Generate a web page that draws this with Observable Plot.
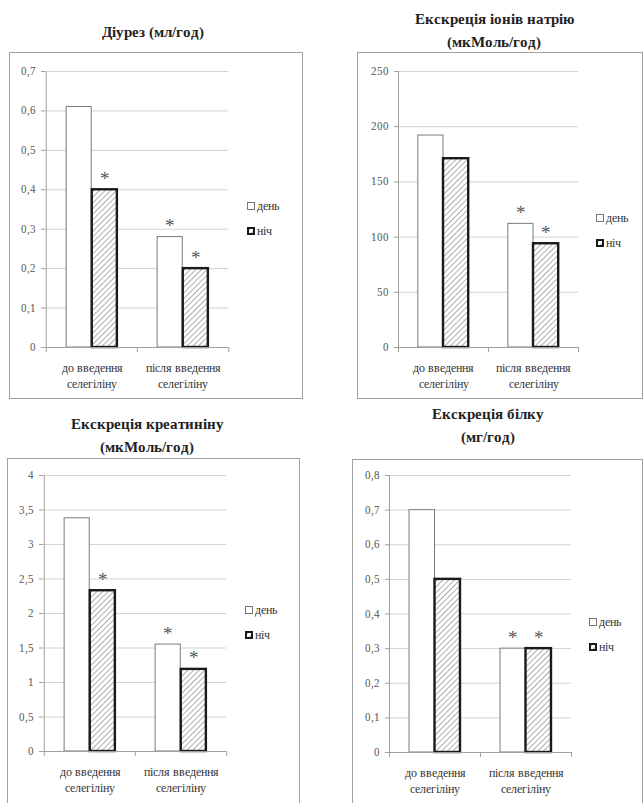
<!DOCTYPE html>
<html>
<head>
<meta charset="utf-8">
<script src="https://cdn.jsdelivr.net/npm/d3@7"></script>
<script src="https://cdn.jsdelivr.net/npm/@observablehq/plot@0.6"></script>
<style>
  @font-face { font-family: "RefSerif"; font-weight: 400; src: local("Liberation Serif"), local("LiberationSerif"), local("LiberationSerif-Regular"), local("Liberation Serif Regular"), local("DejaVu Serif"), local("DejaVuSerif"), local("Times New Roman"); }
  @font-face { font-family: "RefSerif"; font-weight: 700; src: local("Liberation Serif Bold"), local("LiberationSerif-Bold"), local("DejaVu Serif Bold"), local("DejaVuSerif-Bold"), local("Times New Roman Bold"); }
  html, body { margin: 0; padding: 0; background: #fff; }
  body { width: 643px; height: 803px; position: relative; overflow: hidden; font-family: "RefSerif", "Liberation Serif", "DejaVu Serif", serif; }
  .title { position: absolute; width: 320px; text-align: center; font-weight: bold; font-size: 15px; line-height: 23px; color: #222; }
  .frame { position: absolute; border: 1px solid #a0a0a0; }
  .frame svg { display: block; }
  .legend { position: absolute; font-size: 12px; color: #333; }
  .legend .item { position: absolute; left: 0; white-space: nowrap; height: 14px; line-height: 14px; }
  .legend .sw { display: inline-block; vertical-align: middle; margin-right: 2px; box-sizing: border-box; width: 8px; height: 8px; position: relative; top: -1px; }
</style>
</head>
<body>
<svg width="0" height="0" style="position:absolute">
  <defs>
    <pattern id="hatch" width="4" height="4" patternUnits="userSpaceOnUse" patternTransform="rotate(45)">
      <rect width="4" height="4" fill="#ffffff"></rect>
      <line x1="0" y1="0" x2="0" y2="4" stroke="#9a9a9a" stroke-width="1.6"></line>
    </pattern>
  </defs>
</svg>
<script>
// ---- data ----
const categories = ["до введення\nселегіліну", "після введення\nселегіліну"];
const seriesNames = ["день", "ніч"];

const diuresTitle = "Діурез (мл/год)";
const diuresDay = [0.61, 0.28];
const diuresNight = [0.40, 0.20];
const diuresDayStar = [false, true];
const diuresNightStar = [true, true];
const diuresTicks = [0, 0.1, 0.2, 0.3, 0.4, 0.5, 0.6, 0.7];

const sodiumTitle = "Екскреція іонів натрію\n(мкМоль/год)";
const sodiumDay = [192, 112];
const sodiumNight = [171, 94];
const sodiumDayStar = [false, true];
const sodiumNightStar = [false, true];
const sodiumTicks = [0, 50, 100, 150, 200, 250];

const creatTitle = "Екскреція креатиніну\n(мкМоль/год)";
const creatDay = [3.38, 1.55];
const creatNight = [2.33, 1.19];
const creatDayStar = [false, true];
const creatNightStar = [true, true];
const creatTicks = [0, 0.5, 1, 1.5, 2, 2.5, 3, 3.5, 4];

const proteinTitle = "Екскреція білку\n(мг/год)";
const proteinDay = [0.70, 0.30];
const proteinNight = [0.50, 0.30];
const proteinDayStar = [false, true];
const proteinNightStar = [false, true];
const proteinTicks = [0, 0.1, 0.2, 0.3, 0.4, 0.5, 0.6, 0.7, 0.8];

// ---- layout ----
const panels = [
  {title: diuresTitle, day: diuresDay, night: diuresNight, dayStar: diuresDayStar, nightStar: diuresNightStar, ticks: diuresTicks,
   fx: 10, fy: 53, w: 292, h: 345, m: [18, 74, 51, 35], tx: 153, ty: 21, lx: 247, ly: 199},
  {title: sodiumTitle, day: sodiumDay, night: sodiumNight, dayStar: sodiumDayStar, nightStar: sodiumNightStar, ticks: sodiumTicks,
   fx: 358, fy: 53, w: 284, h: 345, m: [18, 64, 51, 40], tx: 494, ty: 8, lx: 596, ly: 211},
  {title: creatTitle, day: creatDay, night: creatNight, dayStar: creatDayStar, nightStar: creatNightStar, ticks: creatTicks,
   fx: 8, fy: 459, w: 291, h: 345, m: [16, 73, 53, 35], tx: 147, ty: 413, lx: 245, ly: 603},
  {title: proteinTitle, day: proteinDay, night: proteinNight, dayStar: proteinDayStar, nightStar: proteinNightStar, ticks: proteinTicks,
   fx: 353, fy: 460, w: 289, h: 345, m: [15, 71, 53, 36], tx: 488, ty: 403, lx: 589, ly: 615}
];

const fmt = d => String(d).replace(".", ",");
const serif = "RefSerif, 'Liberation Serif', 'DejaVu Serif', serif";

function drawPanel(p) {
  const [mt, mr, mb, ml] = p.m;
  const bw = (p.w - ml - mr) / categories.length;
  const pad = bw * 0.22, barW = bw * 0.28;
  const rows = categories.map((c, i) => ({cat: c, day: p.day[i], night: p.night[i], dayStar: p.dayStar[i], nightStar: p.nightStar[i]}));
  const ymax = p.ticks[p.ticks.length - 1];

  const chart = Plot.plot({
    width: p.w, height: p.h,
    marginTop: mt, marginRight: mr, marginBottom: mb, marginLeft: ml,
    style: {fontFamily: serif, background: "white", overflow: "visible"},
    x: {domain: categories, padding: 0, axis: null},
    y: {domain: [0, ymax], axis: null},
    marks: [
      Plot.ruleY(p.ticks, {stroke: "#d2d2d2", strokeWidth: 1}),
      Plot.ruleX([categories[0]], {dx: -bw / 2, stroke: "#a0a0a0"}),
      Plot.barY(rows, {x: "cat", y: "day", fill: "white", stroke: "#7a7a7a", strokeWidth: 1, insetLeft: pad, insetRight: bw - pad - barW}),
      Plot.barY(rows, {x: "cat", y: "night", fill: "url(#hatch)", stroke: "#1a1a1a", strokeWidth: 2.4, insetLeft: bw - pad - barW, insetRight: pad}),
      Plot.ruleY([0], {stroke: "#a0a0a0"}),
      Plot.ruleX(categories, {x: d => d, y1: 0, y2: 0, dx: -bw / 2, insetBottom: -5, stroke: "#a0a0a0"}),
      Plot.ruleX([categories[categories.length - 1]], {x: d => d, y1: 0, y2: 0, dx: bw / 2, insetBottom: -5, stroke: "#a0a0a0"}),
      Plot.axisY({ticks: p.ticks, tickFormat: fmt, tickSize: 4, tickPadding: 6, fontSize: 11, fill: "#555", stroke: "#a0a0a0", label: null}),
      Plot.axisX({tickSize: 0, tickPadding: 13, fontSize: 12, fill: "#333", label: null, lineHeight: 1.35}),
      Plot.text(rows.filter(r => r.dayStar), {x: "cat", y: "day", text: () => "*", dx: -(bw / 2 - pad - barW / 2), dy: -5, lineAnchor: "bottom", fontSize: 19, fill: "#555"}),
      Plot.text(rows.filter(r => r.nightStar), {x: "cat", y: "night", text: () => "*", dx: (bw / 2 - pad - barW / 2), dy: -5, lineAnchor: "bottom", fontSize: 19, fill: "#555"})
    ]
  });

  const frame = document.createElement("div");
  frame.className = "frame";
  frame.style.left = (p.fx - 1) + "px";
  frame.style.top = (p.fy - 1) + "px";
  frame.style.width = p.w + "px";
  frame.style.height = p.h + "px";
  frame.appendChild(chart);
  document.body.appendChild(frame);

  const t = document.createElement("div");
  t.className = "title";
  t.style.left = (p.tx - 160) + "px";
  t.style.top = p.ty + "px";
  t.innerHTML = p.title.split("\n").join("<br>");
  document.body.appendChild(t);

  const lg = document.createElement("div");
  lg.className = "legend";
  lg.style.left = p.lx + "px";
  lg.style.top = p.ly + "px";
  seriesNames.forEach((s, i) => {
    const it = document.createElement("div");
    it.className = "item";
    it.style.top = (i * 25) + "px";
    const sw = document.createElement("span");
    sw.className = "sw";
    if (i === 0) { sw.style.background = "#fff"; sw.style.border = "1px solid #777"; }
    else {
      sw.style.border = "2px solid #1a1a1a";
      sw.innerHTML = '<svg width="4" height="4" style="display:block"><rect width="4" height="4" fill="url(#hatch)"></rect></svg>';
    }
    it.appendChild(sw);
    it.appendChild(document.createTextNode(s));
    lg.appendChild(it);
  });
  document.body.appendChild(lg);
}

panels.forEach(drawPanel);
</script>
</body>
</html>
